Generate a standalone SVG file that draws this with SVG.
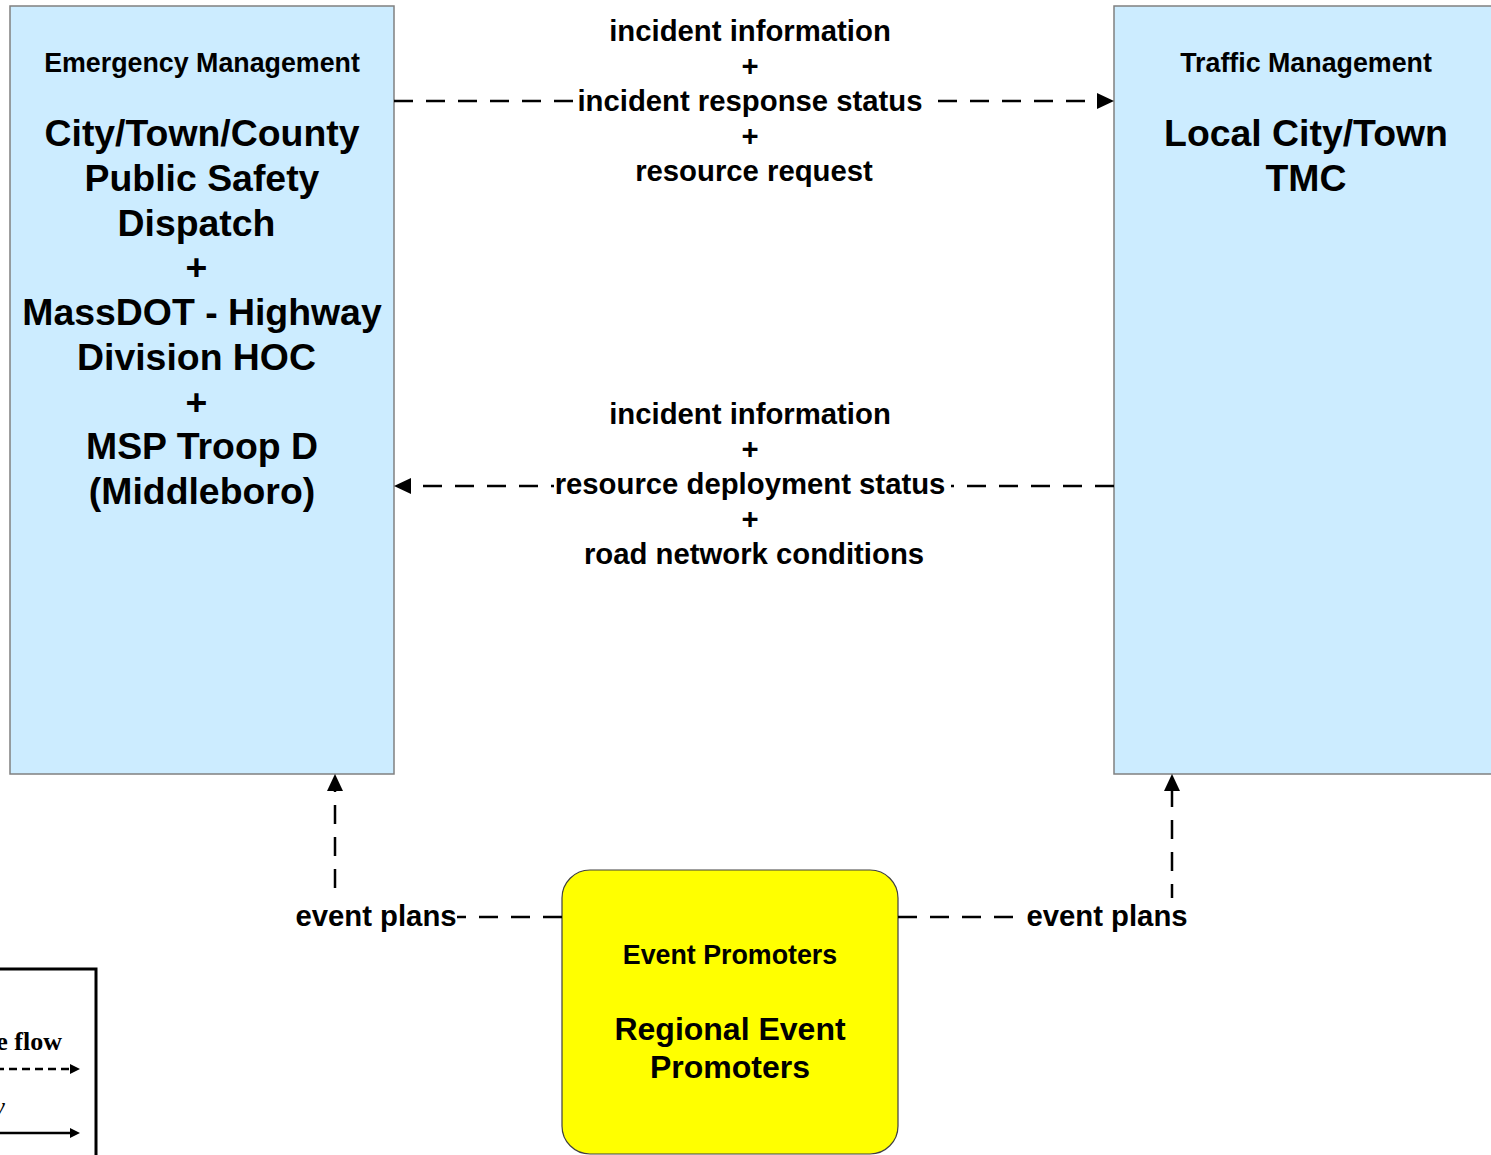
<svg xmlns="http://www.w3.org/2000/svg" width="1491" height="1155" viewBox="0 0 1491 1155">
<style>
  .node { fill: #CCECFF; stroke: #808080; stroke-width: 1.5; }
  .event { fill: #FFFF00; stroke: #404040; stroke-width: 1.2; }
  text { font-family: "Liberation Sans", Arial, sans-serif; font-weight: bold; fill: #000; text-anchor: middle; }
  .cat { font-size: 26.8px; }
  .big { font-size: 37.4px; }
  .mid { font-size: 32px; }
  .lbl { font-size: 29.3px; }
  .flow { fill: none; stroke: #000; stroke-width: 2.5; stroke-dasharray: 19 13; }
  .mask { fill: #FFFFFF; stroke: none; }
  .legtxt { font-family: "Liberation Serif", "Times New Roman", serif; font-size: 26px; text-anchor: end; }
</style>
<defs>
  <marker id="arrow" markerUnits="userSpaceOnUse" markerWidth="18" markerHeight="18" refX="0" refY="8" orient="auto">
    <path d="M0,0 L17,8 L0,16 Z" fill="#000"/>
  </marker>
  <marker id="arrowSmall" markerUnits="userSpaceOnUse" markerWidth="12" markerHeight="12" refX="0" refY="5" orient="auto">
    <path d="M0,0 L10,5 L0,10 Z" fill="#000"/>
  </marker>
</defs>
<rect width="1491" height="1155" fill="#FFFFFF"/>

<g id="node-emergency">
  <rect class="node" x="10" y="6" width="384" height="768"/>
  <text class="cat" x="202" y="72">Emergency Management</text>
  <text class="big" x="202" y="146">City/Town/County</text>
  <text class="big" x="202" y="191">Public Safety</text>
  <text class="big" x="196.5" y="236">Dispatch</text>
  <text class="big" x="196.5" y="280">+</text>
  <text class="big" x="202" y="325">MassDOT - Highway</text>
  <text class="big" x="196.5" y="370">Division HOC</text>
  <text class="big" x="196.5" y="415">+</text>
  <text class="big" x="202" y="459">MSP Troop D</text>
  <text class="big" x="202" y="504">(Middleboro)</text>
</g>

<g id="node-traffic">
  <rect class="node" x="1114" y="6" width="384" height="768"/>
  <text class="cat" x="1306" y="72">Traffic Management</text>
  <text class="big" x="1306" y="146">Local City/Town</text>
  <text class="big" x="1306" y="191">TMC</text>
</g>

<g id="node-event">
  <rect class="event" x="562" y="870" width="336" height="284" rx="28" ry="28"/>
  <text class="cat" x="730" y="964">Event Promoters</text>
  <text class="mid" x="730" y="1040">Regional Event</text>
  <text class="mid" x="730" y="1078">Promoters</text>
</g>

<g id="connectors">
  <path class="flow" d="M394,101 H1097" marker-end="url(#arrow)"/>
  <path class="flow" d="M1114,486 H411" marker-end="url(#arrow)"/>
  <path class="flow" d="M562,917 H335 V791" marker-end="url(#arrow)"/>
  <path class="flow" d="M898,917 H1172 V791" marker-end="url(#arrow)"/>
</g>

<g id="labels">
  <text class="lbl" x="750" y="40.5">incident information</text>
  <text class="lbl" x="750" y="75.5">+</text>
  <rect class="mask" x="577" y="84" width="352" height="34"/>
  <text class="lbl" x="750" y="110.5">incident response status</text>
  <text class="lbl" x="750" y="145.5">+</text>
  <text class="lbl" x="754" y="180.5">resource request</text>

  <text class="lbl" x="750" y="424">incident information</text>
  <text class="lbl" x="750" y="459">+</text>
  <rect class="mask" x="554" y="468" width="397" height="34"/>
  <text class="lbl" x="750" y="494">resource deployment status</text>
  <text class="lbl" x="750" y="529">+</text>
  <text class="lbl" x="754" y="564">road network conditions</text>

  <rect class="mask" x="294" y="898" width="163" height="40"/>
  <text class="lbl" x="376" y="926">event plans</text>
  <rect class="mask" x="1025" y="898" width="163" height="40"/>
  <text class="lbl" x="1107" y="926">event plans</text>
</g>

<g id="legend">
  <rect x="-20" y="969" width="116" height="240" fill="#FFFFFF" stroke="#000" stroke-width="3"/>
  <text class="legtxt" x="62" y="1050">e flow</text>
  <path d="M-4,1069 H70" stroke="#000" stroke-width="2.5" stroke-dasharray="8 5" fill="none" marker-end="url(#arrowSmall)"/>
  <text class="legtxt" x="5" y="1115" style="font-weight:normal;font-style:italic">w</text>
  <path d="M-4,1133 H70" stroke="#000" stroke-width="2.5" fill="none" marker-end="url(#arrowSmall)"/>
</g>
</svg>
